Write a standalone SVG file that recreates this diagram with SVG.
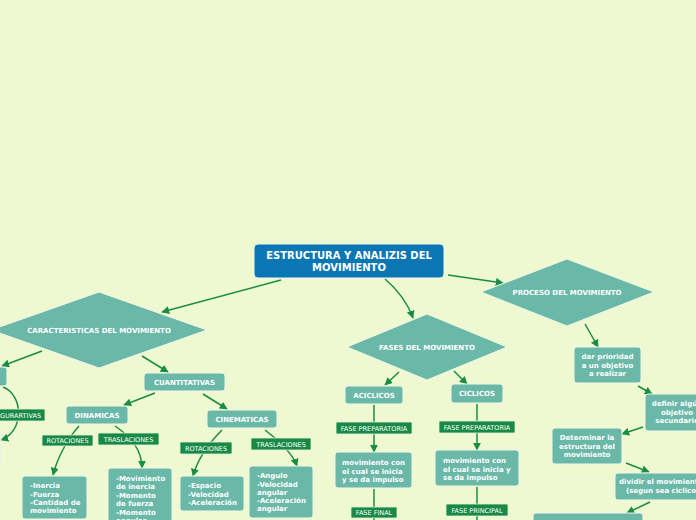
<svg xmlns="http://www.w3.org/2000/svg" width="696" height="520" viewBox="0 0 696 520">
<defs>
<marker id="ah" viewBox="0 0 10 10" refX="9" refY="5" markerWidth="8" markerHeight="8" markerUnits="userSpaceOnUse" orient="auto">
<path d="M0,0 L10,5 L0,10 z" fill="#1A8C45"/>
</marker>
<style>
.n{fill:#6AB8A8;stroke:#F2F8E6;stroke-width:1}
.l{fill:#188A46;stroke:#E6F2D8;stroke-width:0.8}
.c{fill:none;stroke:#1A8C45;stroke-width:1.5}
.a{marker-end:url(#ah)}
.t{font-family:"DejaVu Sans",Verdana,sans-serif;font-weight:bold;fill:#fff;font-size:7px}
.tc{text-anchor:middle}
.lt{font-family:"DejaVu Sans",Verdana,sans-serif;fill:#fff;font-size:6.5px;text-anchor:middle}
.rt{font-family:"DejaVu Sans",Verdana,sans-serif;font-weight:bold;fill:#fff;font-size:10px;text-anchor:middle}
</style>
</defs>
<rect x="0" y="0" width="696" height="520" fill="#EEF8D1"/>
<g id="connectors">
<path class="c a" d="M281,280 L162,312"/>
<path class="c a" d="M385,279 Q405,296 413,318"/>
<path class="c a" d="M448,275 L503,283"/>
<path class="c a" d="M42,351 L2,366"/>
<path class="c a" d="M3,387 C24,395 24,432 1,440"/>
<path class="c a" d="M142,356 L168,372"/>
<path class="c a" d="M155,393 L124,405"/>
<path class="c a" d="M203,394 L227,409"/>
<path class="c a" d="M79,426 C70,436 58,455 53,475"/>
<path class="c a" d="M115,426 C130,436 142,450 142,468"/>
<path class="c a" d="M222,430 C210,442 198,458 193,476"/>
<path class="c a" d="M265,430 C278,440 292,452 297,466"/>
<path class="c a" d="M399,372 L385,385"/>
<path class="c a" d="M454,371 L467,384"/>
<path class="c a" d="M374,405 L374,452"/>
<path class="c a" d="M477,404 L477,450"/>
<path class="c" d="M374,489 L374,520"/>
<path class="c" d="M477,487 L477,520"/>
<path class="c a" d="M585,324 L598,347"/>
<path class="c a" d="M638,386 L652,394"/>
<path class="c a" d="M643,427 L622,434"/>
<path class="c a" d="M626,463 L649,472"/>
<path class="c a" d="M650,502 L627,513"/>
</g>
<g id="root">
<rect x="254" y="244" width="190" height="34" rx="4" fill="#0B76B4" stroke="#F2F8E6" stroke-width="1"/>
<text class="rt" x="349" y="259">ESTRUCTURA Y ANALIZIS DEL</text>
<text class="rt" x="349" y="271">MOVIMIENTO</text>
</g>
<g id="caracteristicas">
<polygon class="n" points="99,292 207,330 99,368 -9,330"/>
<text class="t tc" x="99" y="333">CARACTERISTICAS DEL MOVIMIENTO</text>
</g>
<g id="fases">
<polygon class="n" points="427,314 507,347 427,380 347,347"/>
<text class="t tc" x="427" y="350">FASES DEL MOVIMIENTO</text>
</g>
<g id="proceso">
<polygon class="n" points="567,259 654,292 567,326 481,292"/>
<text class="t tc" x="567" y="295">PROCESO DEL MOVIMIENTO</text>
</g>
<g id="leftbox"><rect class="n" x="-60" y="367" width="67" height="19" rx="3"/></g>
<g id="lbl-gurartivas">
<rect class="l" x="-10" y="409" width="55" height="12" rx="1"/>
<text class="lt" x="20.5" y="417.5">GURARTIVAS</text>
</g>
<g id="leftbox2"><rect x="-100" y="428" width="101" height="40" rx="3" fill="#DCEFD8" stroke="#F2F8E6"/></g>
<g id="cuantitativas">
<rect class="n" x="144" y="373" width="81" height="18" rx="3"/>
<text class="t tc" x="184.5" y="384.5">CUANTITATIVAS</text>
</g>
<g id="dinamicas">
<rect class="n" x="66" y="406" width="62" height="18" rx="3"/>
<text class="t tc" x="97" y="417.5">DINAMICAS</text>
</g>
<g id="cinematicas">
<rect class="n" x="207" y="410" width="70" height="18" rx="3"/>
<text class="t tc" x="242" y="421.5">CINEMATICAS</text>
</g>
<g id="lbl-din-rot">
<rect class="l" x="42" y="435" width="51" height="11" rx="1"/>
<text class="lt" x="67.5" y="443">ROTACIONES</text>
</g>
<g id="lbl-din-tras">
<rect class="l" x="98" y="433" width="61" height="12" rx="1"/>
<text class="lt" x="128.5" y="441.5">TRASLACIONES</text>
</g>
<g id="lbl-cin-rot">
<rect class="l" x="180" y="442" width="52" height="12" rx="1"/>
<text class="lt" x="206" y="450.5">ROTACIONES</text>
</g>
<g id="lbl-cin-tras">
<rect class="l" x="251" y="438" width="60" height="12" rx="1"/>
<text class="lt" x="281" y="446.5">TRASLACIONES</text>
</g>
<g id="inercia">
<rect class="n" x="22" y="476" width="65" height="43" rx="3"/>
<text class="t" x="30" y="488">-Inercia</text>
<text class="t" x="30" y="496.5">-Fuerza</text>
<text class="t" x="30" y="505">-Cantidad de</text>
<text class="t" x="30" y="513">movimiento</text>
</g>
<g id="movinercia">
<rect class="n" x="108" y="468" width="64" height="60" rx="3"/>
<text class="t" x="116" y="481">-Movimiento</text>
<text class="t" x="116" y="489">de inercia</text>
<text class="t" x="116" y="498">-Momento</text>
<text class="t" x="116" y="506">de fuerza</text>
<text class="t" x="116" y="515">-Momento</text>
<text class="t" x="116" y="523">angular</text>
</g>
<g id="espacio">
<rect class="n" x="180" y="476" width="64" height="35" rx="3"/>
<text class="t" x="188" y="488">-Espacio</text>
<text class="t" x="188" y="496.5">-Velocidad</text>
<text class="t" x="188" y="505">-Aceleración</text>
</g>
<g id="angulo">
<rect class="n" x="249" y="466" width="64" height="52" rx="3"/>
<text class="t" x="257" y="478">-Angulo</text>
<text class="t" x="257" y="486.5">-Velocidad</text>
<text class="t" x="257" y="494.5">angular</text>
<text class="t" x="257" y="503">-Aceleración</text>
<text class="t" x="257" y="511">angular</text>
</g>
<g id="aciclicos">
<rect class="n" x="345" y="386" width="58" height="18" rx="3"/>
<text class="t tc" x="374" y="397.5">ACICLICOS</text>
</g>
<g id="ciclicos">
<rect class="n" x="451" y="384" width="52" height="19" rx="3"/>
<text class="t tc" x="477" y="396">CICLICOS</text>
</g>
<g id="lbl-prep-a">
<rect class="l" x="336" y="422" width="76" height="12" rx="1"/>
<text class="lt" x="374" y="430.5">FASE PREPARATORIA</text>
</g>
<g id="lbl-prep-c">
<rect class="l" x="439" y="421" width="76" height="12" rx="1"/>
<text class="lt" x="477" y="429.5">FASE PREPARATORIA</text>
</g>
<g id="mov-a">
<rect class="n" x="335" y="452" width="77" height="36" rx="3"/>
<text class="t" x="342" y="465">movimiento con</text>
<text class="t" x="342" y="473.5">el cual se inicia</text>
<text class="t" x="342" y="482">y se da impulso</text>
</g>
<g id="mov-c">
<rect class="n" x="435" y="450" width="84" height="36" rx="3"/>
<text class="t" x="443" y="463">movimiento con</text>
<text class="t" x="443" y="471.5">el cual se inicia y</text>
<text class="t" x="443" y="480">se da impulso</text>
</g>
<g id="lbl-final">
<rect class="l" x="351" y="507" width="46" height="11" rx="1"/>
<text class="lt" x="374" y="515">FASE FINAL</text>
</g>
<g id="lbl-principal">
<rect class="l" x="446" y="504" width="62" height="12" rx="1"/>
<text class="lt" x="477" y="512.5">FASE PRINCIPAL</text>
</g>
<g id="prioridad">
<rect class="n" x="574" y="347" width="67" height="36" rx="3"/>
<text class="t tc" x="607.5" y="359">dar prioridad</text>
<text class="t tc" x="607.5" y="367.5">a un objetivo</text>
<text class="t tc" x="607.5" y="376">a realizar</text>
</g>
<g id="definir">
<rect class="n" x="645" y="394" width="64" height="37" rx="3"/>
<text class="t tc" x="677" y="406">definir algún</text>
<text class="t tc" x="677" y="414.5">objetivo</text>
<text class="t tc" x="677" y="423">secundario</text>
</g>
<g id="determinar">
<rect class="n" x="552" y="428" width="70" height="36" rx="3"/>
<text class="t tc" x="587" y="440">Determinar la</text>
<text class="t tc" x="587" y="448.5">estructura del</text>
<text class="t tc" x="587" y="457">movimiento</text>
</g>
<g id="dividir">
<rect class="n" x="615" y="473" width="92" height="27" rx="3"/>
<text class="t tc" x="661" y="484">dividir el movimiento</text>
<text class="t tc" x="661" y="493">(segun sea ciclico</text>
</g>
<g id="bottom">
<rect class="n" x="533" y="513" width="110" height="20" rx="3"/>
</g>
</svg>
